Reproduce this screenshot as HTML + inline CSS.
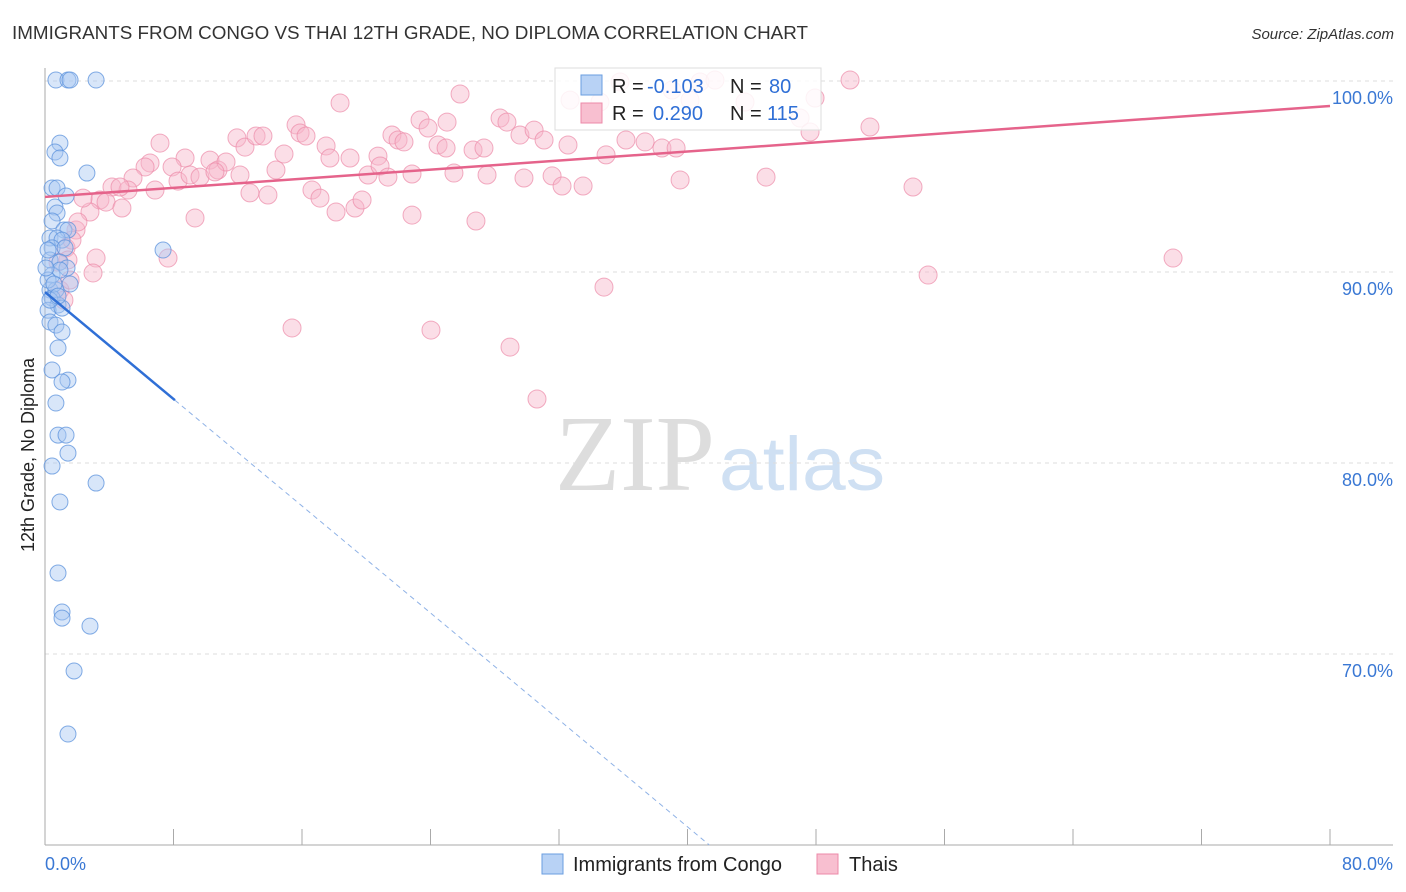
<!DOCTYPE html>
<html><head><meta charset="utf-8"><style>
body{margin:0;background:#fff;font-family:"Liberation Sans",sans-serif;}
svg{display:block}
</style></head><body>
<svg id="chart" width="1406" height="892" xmlns="http://www.w3.org/2000/svg">
<text x="12" y="39" font-size="18" fill="#333" textLength="796" lengthAdjust="spacingAndGlyphs">IMMIGRANTS FROM CONGO VS THAI 12TH GRADE, NO DIPLOMA CORRELATION CHART</text>
<text x="1394" y="39" font-size="15" fill="#333" font-style="italic" text-anchor="end">Source: ZipAtlas.com</text>
<text transform="translate(34,455) rotate(-90)" font-size="18" fill="#222" text-anchor="middle">12th Grade, No Diploma</text>
<g>
<text x="635" y="490" font-size="108" font-family="Liberation Serif, serif" fill="#ddd" text-anchor="middle" textLength="160" lengthAdjust="spacingAndGlyphs">ZIP</text>
<text x="802" y="490" font-size="76" fill="#cfe0f3" text-anchor="middle" textLength="166" lengthAdjust="spacingAndGlyphs">atlas</text>
</g>
<g id="grid"></g><g id="axes"></g><g id="pts"></g><g id="lines"></g>
<g>
<rect x="555" y="68" width="266" height="62" fill="#fff" fill-opacity="0.85" stroke="#ddd"/>
<rect x="581" y="75" width="21" height="20" fill="#b8d2f5" stroke="#6a9ee0"/>
<rect x="581" y="103" width="21" height="20" fill="#f8bfd0" stroke="#ec8aa8"/>
<text x="612" y="93" font-size="20" fill="#222">R =</text>
<text x="647" y="93" font-size="20" fill="#2f6fd6">-0.103</text>
<text x="730" y="93" font-size="20" fill="#222">N =</text>
<text x="769" y="93" font-size="20" fill="#2f6fd6">80</text>
<text x="612" y="120" font-size="20" fill="#222">R =</text>
<text x="653" y="120" font-size="20" fill="#2f6fd6">0.290</text>
<text x="730" y="120" font-size="20" fill="#222">N =</text>
<text x="767" y="120" font-size="20" fill="#2f6fd6">115</text>
</g>
<g>
<rect x="542" y="854" width="21" height="20" fill="#b8d2f5" stroke="#6a9ee0"/>
<text x="573" y="871" font-size="20" fill="#222">Immigrants from Congo</text>
<rect x="817" y="854" width="21" height="20" fill="#f8bfd0" stroke="#ec8aa8"/>
<text x="849" y="871" font-size="20" fill="#222">Thais</text>
</g>
</svg>
<script>
const xTicks=[0,8,16,24,32,40,48,56,64,72,80];
const yTicks=[100,90,80,70];
const yTickLabels=["100.0%","90.0%","80.0%","70.0%"];
const xEndLabels=["0.0%","80.0%"];
const congoX=[0.68,1.43,1.56,3.18,0.93,0.62,0.93,2.61,0.44,0.75,1.31,0.62,0.75,0.44,1.18,1.43,0.31,0.75,1.06,0.44,1.25,7.35,0.31,0.93,1.37,0.44,0.93,1.56,0.31,0.68,0.44,0.81,0.19,1.06,0.31,0.68,0.81,1.06,0.44,1.43,1.06,0.68,0.81,1.31,0.44,1.43,3.18,0.93,0.81,1.06,1.06,2.8,1.81,1.43,0.19,0.56,0.31,0.06,0.19,0.81];
const congoY=[100.05,100.05,100.05,100.05,96.75,96.28,95.97,95.18,94.4,94.4,93.98,93.4,93.09,92.67,92.2,92.2,91.78,91.78,91.67,91.26,91.26,91.15,90.63,90.52,90.21,89.84,90.1,89.37,89.06,89.06,88.64,88.27,88.0,88.11,87.38,87.22,86.02,86.86,84.87,84.34,84.24,83.14,81.46,81.46,79.84,80.52,78.95,77.96,74.24,72.2,71.88,71.46,69.11,65.81,89.58,89.37,88.53,90.21,91.15,88.74];
const thaiX=[7.16,6.54,6.23,5.48,4.17,5.17,4.67,6.85,3.42,3.8,2.8,4.79,3.18,1.93,1.31,1.43,2.99,0.93,8.72,7.91,8.28,9.03,9.65,10.27,10.77,11.27,10.58,12.14,11.95,12.45,13.14,13.57,12.76,13.88,14.38,14.88,15.63,15.88,16.25,16.62,17.12,17.5,17.74,18.37,18.99,18.12,19.3,20.11,19.74,20.73,20.86,21.35,21.6,21.98,22.35,22.85,22.85,23.35,23.85,24.47,24.97,25.03,25.84,25.46,26.65,27.33,27.52,26.83,28.33,28.76,29.57,29.82,30.45,31.07,31.57,32.19,32.56,33.5,34.93,36.17,37.36,38.41,39.29,39.54,35.8,34.55,40.78,41.71,43.58,44.89,47.01,47.63,47.94,50.12,51.36,54.04,54.98,70.23,39.04,34.8,15.38,24.03,28.95,30.63,9.34,7.66,2.05,2.37,1.18,1.56,0.81,1.68,32.69,40.16];
const thaiY=[96.75,95.71,95.5,94.92,94.45,94.29,94.45,94.29,93.77,93.66,93.14,93.35,90.73,92.2,91.26,90.63,89.95,89.06,95.97,95.5,94.76,95.08,94.97,95.86,95.34,95.76,95.24,95.08,97.02,96.54,97.12,97.12,94.14,94.03,95.34,96.18,97.7,97.28,97.12,94.29,93.87,96.6,95.97,98.85,95.97,93.14,93.35,95.08,93.77,96.07,95.55,94.97,97.17,96.91,96.81,95.13,92.98,97.96,97.54,96.65,96.49,97.85,99.32,95.18,96.39,96.49,95.08,92.67,98.06,97.85,97.17,94.92,97.43,96.91,95.03,94.5,96.65,94.5,96.13,96.91,96.81,96.49,96.49,94.82,99.95,98.9,99.95,100.05,98.9,94.97,98.06,97.33,99.11,100.05,97.59,94.45,89.84,90.73,99.53,89.21,87.07,86.96,86.07,83.35,92.83,90.73,92.62,93.87,88.53,89.58,90.52,91.67,99.0,99.0];
const thaiTrend=[93.93,98.69];
const congoTrend=[88.95,-0.70];
const NS="http://www.w3.org/2000/svg";
const X=v=>45+v*(1285/80);
const Y=v=>81+(100-v)*19.1;
function mk(t,a,p){const e=document.createElementNS(NS,t);for(const k in a)e.setAttribute(k,a[k]);document.getElementById(p).appendChild(e);return e;}
yTicks.forEach((t,i)=>{
 const g=mk('line',{x1:45,x2:1393,y1:Y(t),y2:Y(t),stroke:'#ddd','stroke-dasharray':'4,4'},'grid');
 
 
 const l=mk('text',{x:1393,y:Y(t)+23,'font-size':18,fill:'#3a78d4','text-anchor':'end'},'grid');
 l.textContent=yTickLabels[i];
 
 
});
const ax=mk('line',{x1:45,x2:1393,y1:845,y2:845,stroke:'#aaa'},'axes');


const ay=mk('line',{x1:45,x2:45,y1:68,y2:845,stroke:'#aaa'},'axes');


xTicks.forEach(t=>{
 const k=mk('line',{x1:X(t),x2:X(t),y1:829,y2:845,stroke:'#aaa'},'axes');
 
 
});
const l0=mk('text',{x:45,y:870,'font-size':18,fill:'#3a78d4'},'axes');l0.textContent=xEndLabels[0];


const l1=mk('text',{x:1393,y:870,'font-size':18,fill:'#3a78d4','text-anchor':'end'},'axes');l1.textContent=xEndLabels[1];


thaiX.forEach((v,i)=>{
 const c=mk('circle',{cx:X(v),cy:Y(thaiY[i]),r:9,fill:'#f6b6c9','fill-opacity':0.45,stroke:'#ec8aa8','stroke-opacity':0.7},'pts');
 
 
});
congoX.forEach((v,i)=>{
 const c=mk('circle',{cx:X(v),cy:Y(congoY[i]),r:8,fill:'#a9c8f2','fill-opacity':0.45,stroke:'#5b92dc','stroke-opacity':0.75},'pts');
 
 
});
const tl=mk('line',{x1:X(0),y1:Y(thaiTrend[0]),x2:X(80),y2:Y(thaiTrend[1]),stroke:'#e5638b','stroke-width':2.5},'lines');


const cy=x=>congoTrend[0]+congoTrend[1]*x;
const xs=8.09, xe=(congoTrend[0]-60)/(-congoTrend[1]);
const cl=mk('line',{x1:X(0),y1:Y(cy(0)),x2:X(xs),y2:Y(cy(xs)),stroke:'#2f6fd6','stroke-width':2.5},'lines');


const cd=mk('line',{x1:X(xs),y1:Y(cy(xs)),x2:X(xe),y2:Y(cy(xe)),stroke:'#8fb2e6','stroke-width':1,'stroke-dasharray':'5,4'},'lines');


</script>
</body></html>
